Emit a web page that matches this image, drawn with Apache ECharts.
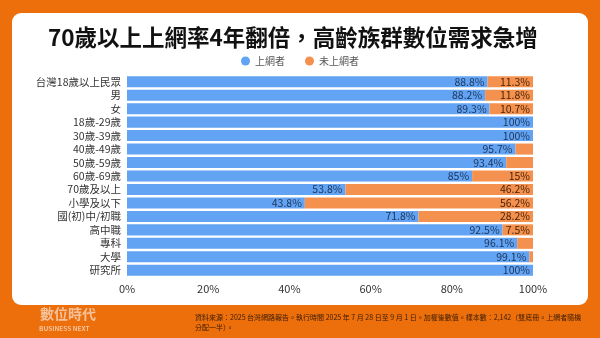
<!DOCTYPE html>
<html><head><meta charset="utf-8">
<script src="https://cdn.jsdelivr.net/npm/echarts@6/dist/echarts.min.js"></script>
<style>html,body{margin:0;padding:0;background:#EC6F0B;}#c{width:600px;height:338px;}</style>
</head><body><div id="c"></div>
<script>
const categories = ['台灣18歲以上民眾','男','女','18歲-29歲','30歲-39歲','40歲-49歲','50歲-59歲','60歲-69歲','70歲及以上','小學及以下','國(初)中/初職','高中職','專科','大學','研究所'];
const online = [88.8, 88.2, 89.3, 100, 100, 95.7, 93.4, 85, 53.8, 43.8, 71.8, 92.5, 96.1, 99.1, 100];
const offline = [11.3, 11.8, 10.7, 0, 0, 4.3, 6.6, 15, 46.2, 56.2, 28.2, 7.5, 3.9, 0.9, 0];
const xTicks = [0, 20, 40, 60, 80, 100];
const seriesNames = ['上網者', '未上網者'];
const titleText = '70歲以上上網率4年翻倍，高齡族群數位需求急增';
const sourceLines = ['資料來源：2025 台灣網路報告。執行時間 2025 年 7 月 28 日至 9 月 1 日。加權後數值。樣本數：2,142（雙底冊。上網者隨機', '分配一半）。'];

const FONT = '"Noto Sans CJK TC", "Noto Sans", sans-serif';
const chart = echarts.init(document.getElementById('c'), null, {renderer: 'canvas'});
function fmt(p){ return p.value < 7 ? '' : p.value + '%'; }
chart.setOption({
  backgroundColor: '#EC6F0B',
  animation: false,
  textStyle: {fontFamily: FONT},
  graphic: [
    {type: 'rect', shape: {x: 12, y: 13, width: 576, height: 292, r: 9}, style: {fill: '#ffffff'}, z: -10},
    {type: 'text', left: 40, top: 307, style: {text: '數位時代', font: 'bold 14px ' + FONT, fill: '#F6C29C'}},
    {type: 'text', left: 39, top: 325, style: {text: 'BUSINESS NEXT', font: 'bold 6.5px ' + FONT, fill: '#F6C29C'}},
    {type: 'text', left: 195, top: 312, style: {text: sourceLines.join('\n'), font: '7px ' + FONT, fill: '#3a1c05', lineHeight: 10}}
  ],
  title: {
    text: titleText, left: 43, top: 21,
    textStyle: {fontFamily: FONT, fontSize: 22.5, fontWeight: 'bold', color: '#111'}
  },
  legend: {
    data: seriesNames, top: 51, left: 'center', icon: 'circle', itemWidth: 9, itemHeight: 9, itemGap: 20,
    textStyle: {fontFamily: FONT, fontSize: 10, color: '#555'}
  },
  grid: {left: 127, right: 67, top: 75, bottom: 61, containLabel: false},
  xAxis: {
    type: 'value', min: 0, max: 100, interval: 20,
    axisLabel: {formatter: v => xTicks.includes(v) ? v + '%' : '', fontSize: 11, color: '#333', fontFamily: FONT, margin: 6},
    splitLine: {show: false}, axisLine: {show: false}, axisTick: {show: false}
  },
  yAxis: {
    type: 'category', data: categories, inverse: true,
    axisLabel: {interval: 0, fontSize: 10.5, color: '#333', fontFamily: FONT, margin: 6},
    axisLine: {show: false}, axisTick: {show: false}
  },
  series: [
    {name: seriesNames[0], type: 'bar', stack: 'a', data: online, barCategoryGap: '18%',
     itemStyle: {color: '#62A3F3'},
     label: {show: true, position: 'insideRight', formatter: fmt, color: '#1c3558', fontSize: 10.5, fontFamily: FONT, distance: 3}},
    {name: seriesNames[1], type: 'bar', stack: 'a', data: offline,
     itemStyle: {color: '#F4914E'},
     label: {show: true, position: 'insideRight', formatter: fmt, color: '#4a2408', fontSize: 10.5, fontFamily: FONT, distance: 3}}
  ]
});
</script></body></html>
